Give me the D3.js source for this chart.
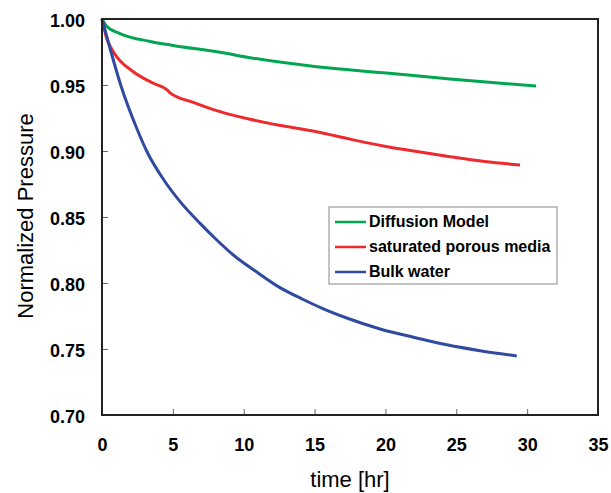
<!DOCTYPE html>
<html>
<head>
<meta charset="utf-8">
<script src="https://cdn.jsdelivr.net/npm/d3@7"></script>
<style>
  body { margin: 0; background: #fff; }
  svg { font-family: "Liberation Sans", Arial, sans-serif; }
</style>
</head>
<body>
<div id="chart"></div>
<script>
// values
let diffTime = [0, 0.33, 1.27, 3.4, 5, 8.33, 10.44, 15.15, 19.85, 24.56, 30.63];
let diffP    = [1.0, 0.9945, 0.989, 0.983, 0.980, 0.9748, 0.9707, 0.9639, 0.9593, 0.9545, 0.9492];

let poroTime = [0, 0.33, 0.8, 2.21, 3.62, 4.68, 4.8, 6.44, 8.33, 10.44, 12.5, 15.15, 17.5, 19.85, 22, 24.56, 27, 29.5];
let poroP    = [1.0, 0.9854, 0.9752, 0.960, 0.9513, 0.9455, 0.944, 0.9369, 0.9298, 0.924, 0.9195, 0.9146, 0.909, 0.9038, 0.900, 0.8957, 0.892, 0.8894];

let bulkTime = [0, 0.56, 1.32, 2.45, 3.15, 4.45, 5.6, 6.92, 8.1, 9.27, 10.9, 12.56, 14.2, 15.5, 17.27, 19.62, 21.97, 24.33, 26.68, 29.27];
let bulkP    = [1.0, 0.978, 0.950, 0.9172, 0.900, 0.8767, 0.8605, 0.8452, 0.8326, 0.8212, 0.8085, 0.7965, 0.7875, 0.781, 0.7735, 0.7652, 0.7589, 0.7532, 0.7487, 0.7447];

let seriesNames = ["Diffusion Model", "saturated porous media", "Bulk water"];
let seriesColors = ["#00a650", "#ee2a2e", "#2f4a9f"];

let xTicks = [0, 5, 10, 15, 20, 25, 30, 35];
let yTicks = [0.70, 0.75, 0.80, 0.85, 0.90, 0.95, 1.00];

let series = [
  { name: seriesNames[0], color: seriesColors[0], t: diffTime, p: diffP },
  { name: seriesNames[1], color: seriesColors[1], t: poroTime, p: poroP },
  { name: seriesNames[2], color: seriesColors[2], t: bulkTime, p: bulkP }
];

let W = 611, H = 493;
let margin = {top: 19, right: 13, bottom: 78, left: 102},
    width = W - margin.left - margin.right,
    height = H - margin.top - margin.bottom;

let svg = d3.select("#chart").append("svg")
    .attr("width", W)
    .attr("height", H)
  .append("g")
    .attr("transform", "translate(" + margin.left + "," + margin.top + ")");

let x = d3.scaleLinear().domain([0, 35]).range([0, width]);
let y = d3.scaleLinear().domain([0.70, 1.00]).range([height, 0]);

// axes with inward ticks
let xAxis = svg.append("g")
    .attr("transform", "translate(0," + height + ")")
    .call(d3.axisBottom(x).tickValues(xTicks).tickFormat(d3.format("d"))
      .tickSizeInner(-6).tickSizeOuter(0).tickPadding(23));
let yAxis = svg.append("g")
    .call(d3.axisLeft(y).tickValues(yTicks).tickFormat(d3.format(".2f"))
      .tickSizeInner(-6).tickSizeOuter(0).tickPadding(17));

[xAxis, yAxis].forEach(function(a) {
  a.select(".domain").remove();
  a.selectAll(".tick line").attr("stroke", "#666").attr("stroke-width", 1);
  a.selectAll(".tick text")
    .attr("fill", "#000")
    .style("font-size", "18px")
    .style("font-weight", "bold")
    .style("font-family", "'Liberation Sans', Arial, sans-serif");
});
yAxis.selectAll(".tick text").attr("dy", "0.43em");

// curves
let line = d3.line()
    .x(d => x(d[0]))
    .y(d => y(d[1]))
    .curve(d3.curveMonotoneX);

series.forEach(function(s) {
  let pts = s.t.map((t, i) => [t, s.p[i]]);
  svg.append("path")
    .datum(pts)
    .attr("fill", "none")
    .attr("stroke", s.color)
    .attr("stroke-width", 3)
    .attr("d", line);
});

// frame
svg.append("rect")
    .attr("x", 0).attr("y", 0)
    .attr("width", width).attr("height", height)
    .attr("fill", "none")
    .attr("stroke", "#222")
    .attr("stroke-width", 2);

// legend
let legend = svg.append("g")
    .attr("transform", "translate(" + (329 - margin.left) + "," + (207 - margin.top) + ")");
legend.append("rect")
    .attr("x", 0).attr("y", 0)
    .attr("width", 228).attr("height", 77)
    .attr("fill", "#fff")
    .attr("stroke", "#888")
    .attr("stroke-width", 1);
series.forEach(function(s, i) {
  let ly = 15 + i * 25;
  legend.append("line")
    .attr("x1", 6).attr("x2", 37)
    .attr("y1", ly).attr("y2", ly)
    .attr("stroke", s.color)
    .attr("stroke-width", 2.5);
  legend.append("text")
    .attr("x", 40).attr("y", ly + 4.5)
    .style("font-size", "16px")
    .style("font-weight", "bold")
    .text(s.name);
});

// axis titles
svg.append("text")
    .attr("x", x(17.5))
    .attr("y", 487 - margin.top)
    .style("text-anchor", "middle")
    .style("font-size", "22px")
    .text("time [hr]");

svg.append("text")
    .attr("transform", "rotate(-90)")
    .attr("x", -(216 - margin.top))
    .attr("y", 33 - margin.left)
    .style("text-anchor", "middle")
    .style("font-size", "22px")
    .text("Normalized Pressure");
</script>
</body>
</html>
